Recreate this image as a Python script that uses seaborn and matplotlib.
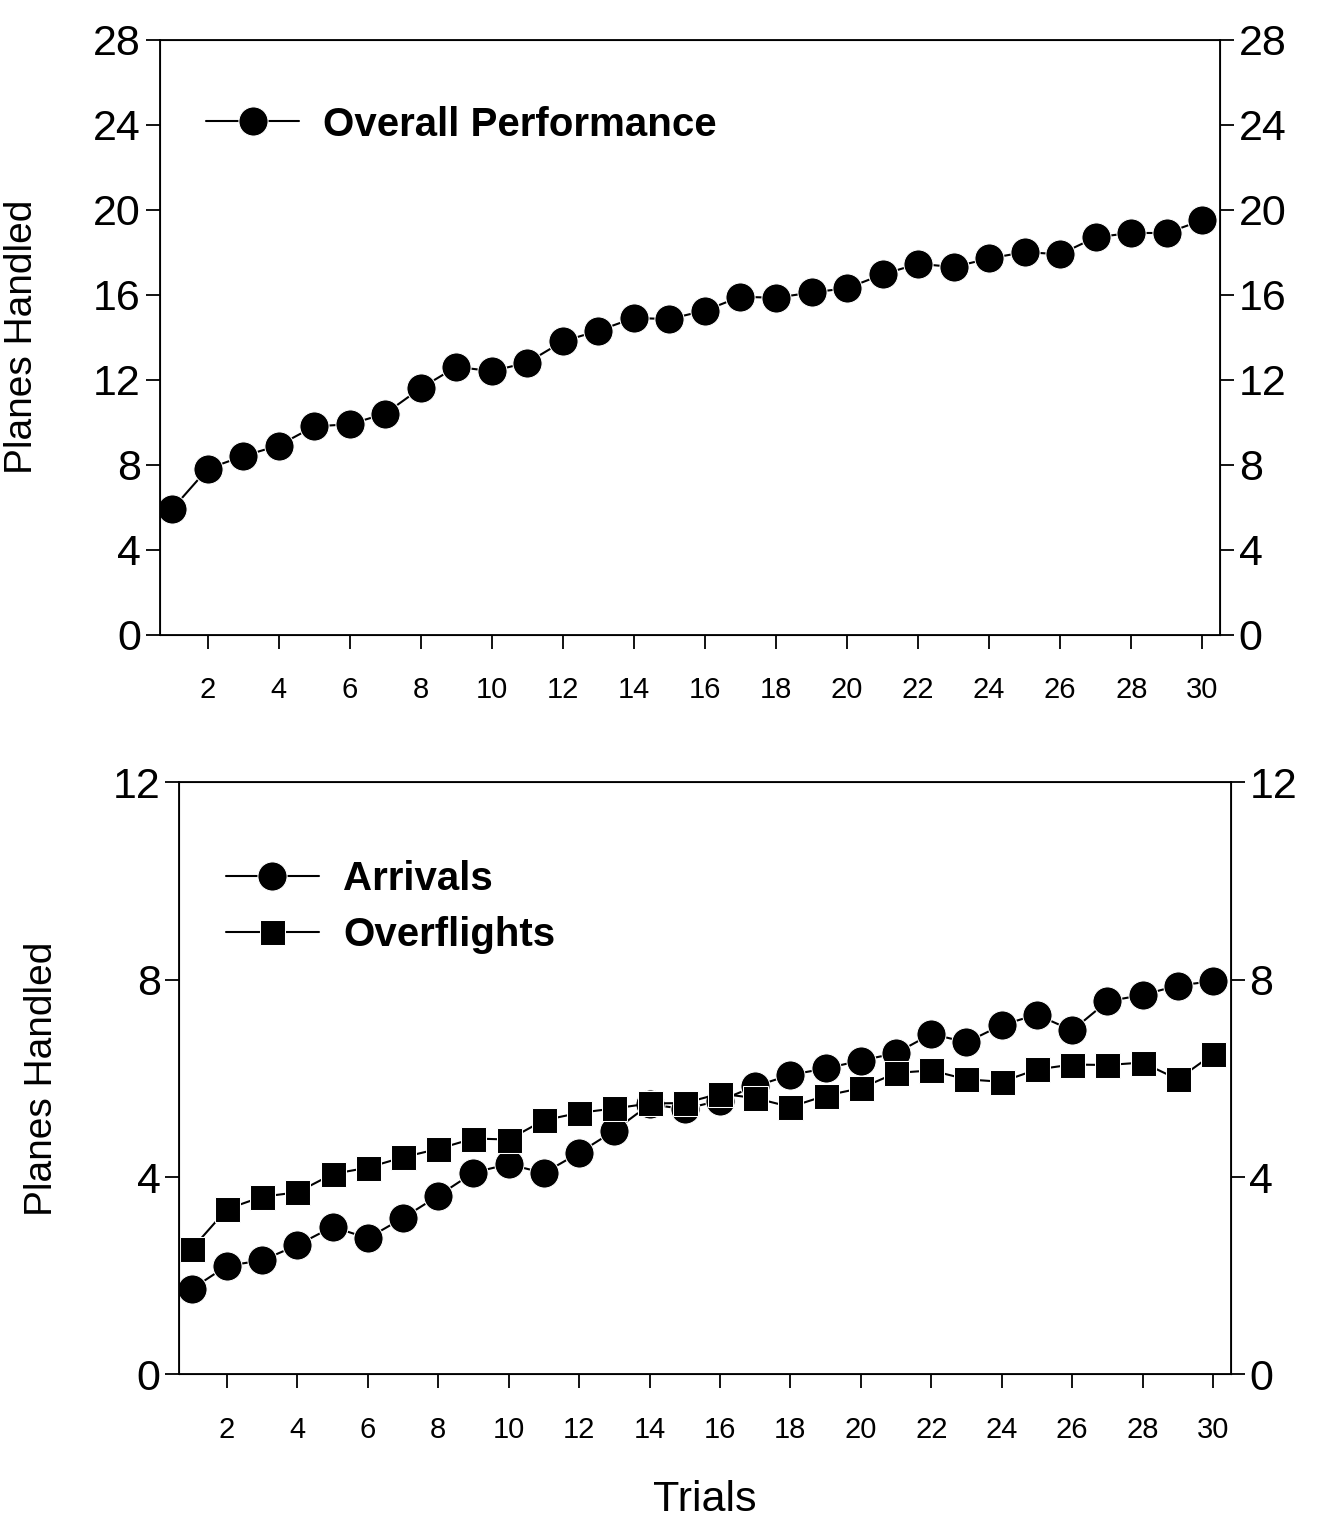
import numpy as np
import pandas as pd
import matplotlib
matplotlib.use("Agg")
import matplotlib.pyplot as plt
import seaborn as sns

# values
trials = list(range(1, 31))
overall = [5.9, 7.8, 8.4, 8.9, 9.8, 9.9, 10.4, 11.6, 12.6, 12.4,
           12.8, 13.8, 14.3, 14.9, 14.85, 15.25, 15.9, 15.85, 16.1, 16.3,
           16.95, 17.45, 17.3, 17.7, 18.0, 17.9, 18.7, 18.9, 18.9, 19.5]
arrivals = [1.73, 2.2, 2.31, 2.62, 2.99, 2.76, 3.17, 3.62, 4.09, 4.26,
            4.08, 4.49, 4.94, 5.47, 5.38, 5.55, 5.84, 6.07, 6.2, 6.36,
            6.51, 6.9, 6.73, 7.08, 7.29, 6.97, 7.56, 7.69, 7.88, 7.97]
overflights = [2.54, 3.35, 3.6, 3.69, 4.06, 4.19, 4.4, 4.57, 4.78, 4.76,
               5.15, 5.3, 5.39, 5.49, 5.5, 5.69, 5.6, 5.42, 5.65, 5.8,
               6.11, 6.16, 5.98, 5.93, 6.18, 6.28, 6.27, 6.32, 5.98, 6.49]
xticks = list(range(2, 31, 2))

sns.set_style("ticks")
plt.rcParams['font.family'] = ['Liberation Sans', 'DejaVu Sans']
for k in ["text.color", "axes.labelcolor", "xtick.color", "ytick.color", "axes.edgecolor"]:
    plt.rcParams[k] = "black"

fig = plt.figure(figsize=(13.19, 15.22), dpi=100)
ax1 = fig.add_axes([0.121, 0.583, 0.804, 0.391])
ax2 = fig.add_axes([0.136, 0.097, 0.797, 0.389])

top = pd.DataFrame({"Trial": trials, "Overall Performance": overall})
bot = pd.DataFrame({"Trial": trials, "Arrivals": arrivals, "Overflights": overflights})

sns.lineplot(data=top, x="Trial", y="Overall Performance", marker="o", color="black",
             markersize=21, linewidth=1.5, ax=ax1, label="Overall Performance")
sns.lineplot(data=bot, x="Trial", y="Arrivals", marker="o", color="black",
             markersize=21, linewidth=1.5, ax=ax2, label="Arrivals")
sns.lineplot(data=bot, x="Trial", y="Overflights", marker="s", color="black",
             markersize=18, linewidth=1.5, ax=ax2, label="Overflights")


def style_axes(ax, ymax, ystep):
    ax.set_xlim(0.65, 30.5)
    ax.set_ylim(0, ymax)
    ax.set_xticks(xticks)
    ax.set_xticklabels([str(t) for t in xticks], fontsize=21)
    ax.tick_params(axis="x", length=10, width=1.3, pad=20)
    ax.set_yticks(np.arange(0, ymax + 1, ystep))
    ax.tick_params(axis="y", labelsize=31, length=10, width=1.3)
    ax.set_ylabel("Planes Handled", fontsize=28, labelpad=38)
    ax.set_xlabel("")
    for s in ax.spines.values():
        s.set_visible(True)
        s.set_linewidth(1.3)
    tw = ax.twinx()
    tw.set_ylim(0, ymax)
    tw.set_yticks(np.arange(0, ymax + 1, ystep))
    tw.tick_params(axis="y", labelsize=31, length=10, width=1.3)
    return tw


style_axes(ax1, 28, 4)
style_axes(ax2, 12, 4)
ax2.set_xlabel("Trials", fontsize=31, labelpad=26)

leg1 = ax1.legend(loc="upper left", bbox_to_anchor=(0.01, 0.95), frameon=False,
                  prop={"size": 29, "weight": "bold"}, handlelength=2.3, handletextpad=0.6)
leg2 = ax2.legend(loc="upper left", bbox_to_anchor=(0.01, 0.93), frameon=False,
                  prop={"size": 29, "weight": "bold"}, handlelength=2.3, handletextpad=0.6,
                  labelspacing=0.45)

fig.savefig("out.png", dpi=100)
